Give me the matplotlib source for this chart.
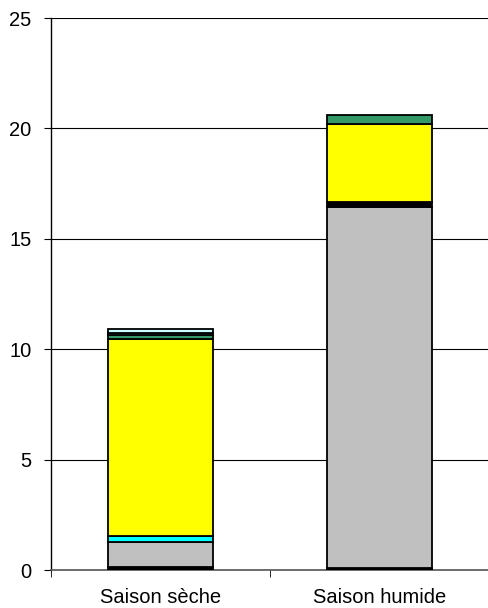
import numpy as np
import matplotlib
matplotlib.use("Agg")
import matplotlib.pyplot as plt

plt.rcParams['font.family'] = ['Liberation Sans', 'DejaVu Sans']

# Seasons and stacked components (bottom to top)
seasons = ["Saison sèche", "Saison humide"]
comp_black_base = [0.15, 0.08]
comp_gray = [1.13, 16.37]
comp_cyan = [0.25, 0.0]
comp_black_mid = [0.0, 0.20]
comp_yellow = [8.92, 3.55]
comp_green = [0.20, 0.40]
comp_slate = [0.10, 0.0]
comp_pale = [0.17, 0.0]

layers = [
    (comp_black_base, "#000000"),
    (comp_gray, "#C0C0C0"),
    (comp_cyan, "#00FFFF"),
    (comp_black_mid, "#000000"),
    (comp_yellow, "#FFFF00"),
    (comp_green, "#339966"),
    (comp_slate, "#7f9f9f"),
    (comp_pale, "#CCFFFF"),
]

fig = plt.figure(figsize=(4.89, 6.08), dpi=100)
ax = fig.add_axes([51 / 489, 38 / 608, 438 / 489, 552 / 608])

x = np.arange(len(seasons))
bottom = np.zeros(len(seasons))
for vals, col in layers:
    vals = np.array(vals)
    mask = vals > 0
    ax.bar(x[mask], vals[mask], bottom=bottom[mask], width=0.48,
           color=col, edgecolor="black", linewidth=1.3, zorder=3)
    bottom += vals

ax.set_xlim(-0.5, -0.5 + 438 / 224)
ax.set_ylim(0, 25)
ax.set_yticks(range(0, 26, 5))
ax.yaxis.grid(True, color="black", linewidth=0.8, zorder=0)
ax.set_axisbelow(True)

ax.set_xticks(x)
ax.set_xticklabels(seasons, fontsize=14.5)
ax.set_xticks([-0.5, 0.5, 1.5], minor=True)
ax.tick_params(axis="x", which="major", length=0, pad=13)
ax.tick_params(axis="x", which="minor", length=5, direction="out", color="black")
ax.tick_params(axis="y", length=5, direction="out", labelsize=14.5, pad=9)

for side in ["top", "right"]:
    ax.spines[side].set_visible(False)
ax.spines["left"].set_color("black")
ax.spines["bottom"].set_color("#555555")
ax.spines["left"].set_linewidth(1.0)
ax.spines["bottom"].set_linewidth(1.2)

fig.savefig("out.png", dpi=100)
